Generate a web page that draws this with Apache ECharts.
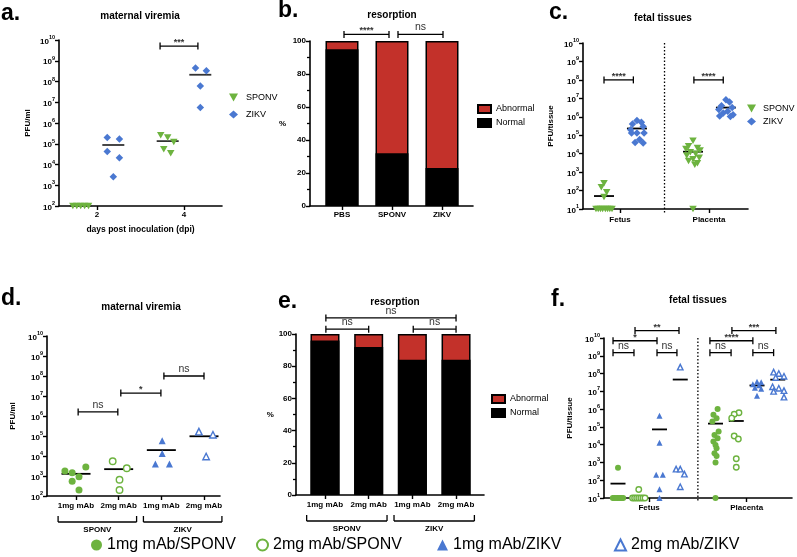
<!DOCTYPE html>
<html><head><meta charset="utf-8">
<script src="https://cdn.jsdelivr.net/npm/echarts@6/dist/echarts.min.js"></script>
<style>html,body{margin:0;padding:0;background:#fff}#c{width:797px;height:557px}</style>
</head><body><div id="c"></div>
<script>
// ===================== DATA =====================
// a. maternal viremia (PFU/ml)
const aDays = [2, 4];
const aSPONV = [[100, 100, 100, 100, 100], [2.6e5, 2.0e5, 1.2e5, 5.4e4, 3.5e4]];
const aZIKV = [[2.0e5, 1.7e5, 4.2e4, 2.1e4, 2.6e3], [4.5e8, 3.3e8, 6.0e7, 5.6e6]];
// b. resorption (%)
const bGroups = ['PBS', 'SPONV', 'ZIKV'];
const bNormal = [95, 32, 23];
const bAbnormal = [5, 68, 77];
// c. fetal tissues (PFU/tissue)
const cTissues = ['Fetus', 'Placenta'];
const cSPONV = [[250, 150, 80, 45, 10, 10, 10, 10, 10, 10, 10, 10],
                [5e4, 2.5e4, 2e4, 1.8e4, 1.5e4, 1.2e4, 1e4, 8e3, 6e3, 5e3, 4e3, 3e3, 2.5e3, 10]];
const cZIKV = [[6.2e5, 5e5, 4e5, 3e5, 2e5, 1.3e5, 1.3e5, 1.3e5, 5.8e4, 4e4, 3.8e4],
               [8.5e6, 6.3e6, 4e6, 3.2e6, 2.5e6, 2e6, 1.6e6, 1.3e6, 1.1e6, 1.05e6]];
// d. maternal viremia with mAb
const dGroups = ['1mg mAb', '2mg mAb', '1mg mAb', '2mg mAb'];
const dViruses = ['SPONV', 'ZIKV'];
const d1SPONV = [1800, 1450, 2800, 910, 550, 200];
const d2SPONV = [5500, 2450, 650, 200];
const d1ZIKV = [57500, 13500, 4000, 4000];
const d2ZIKV = [166000, 115000, 9500];
// e. resorption with mAb (%)
const eNormal = [96, 92, 84, 84];
const eAbnormal = [4, 8, 16, 16];
// f. fetal tissues with mAb, [fetus, placenta]
const f1SPONV = [[500, 10, 10, 10, 10, 10, 10, 10, 10],
                 [1e6, 4.8e5, 3.1e5, 2e5, 5.5e4, 3.5e4, 2.3e4, 1.5e4, 9.7e3, 6.3e3, 3.3e3, 2.3e3, 1e3, 10]];
const f2SPONV = [[30, 10, 10, 10, 10, 10, 10, 10],
                 [6.3e5, 5.1e5, 3.1e5, 3.1e4, 2.1e4, 1.6e3, 540]];
const f1ZIKV = [[4.2e5, 1.3e4, 200, 200, 31, 10],
                [3.5e7, 3.2e7, 2.5e7, 2.2e7, 1.6e7, 1.4e7, 5.6e6]];
const f2ZIKV = [[2.3e8, 420, 420, 220, 43],
                [1.2e8, 1e8, 7e7, 6e7, 1.8e7, 1.5e7, 1.1e7, 1e7, 4.7e6]];
const seriesNames = ['1mg mAb/SPONV', '2mg mAb/SPONV', '1mg mAb/ZIKV', '2mg mAb/ZIKV'];
// significance labels
const sigA = ['***'];
const sigB = ['****', 'ns'];
const sigC = ['****', '****'];
const sigD = ['ns', '*', 'ns'];
const sigE = ['ns', 'ns', 'ns'];
const sigF = ['ns', 'ns', '*', '**', 'ns', 'ns', '****', '***'];

// ===================== LAYOUT (positions / jitter) =====================
const FONT = '"Liberation Sans", Arial, Helvetica, sans-serif';
const GREEN = '#6db33f', BLUE = '#4a78d1', RED = '#c3312a';
const DOWN_TRI = 'path://M0,0 L10,0 L5,8.66 Z';
const aDodge = 0.375;
const aJit = { S: [[-0.18, -0.09, 0, 0.09, 0.18], [-0.16, 0, 0.14, -0.09, 0.07]],
               Z: [[-0.14, 0.14, -0.14, 0.14, 0], [-0.11, 0.14, 0, 0]] };
const cDodge = [-0.18, 0.19];
const cJit = { S: [[0, -0.03, 0.03, 0, -0.09, -0.065, -0.04, -0.015, 0.015, 0.04, 0.065, 0.09],
                   [0, -0.05, 0.05, -0.08, 0.08, -0.03, 0.03, -0.07, 0.07, 0, -0.05, 0.05, 0.02, 0]],
               Z: [[0, 0.05, -0.05, 0.07, -0.07, 0, 0.08, -0.06, 0.03, -0.02, 0.07],
                   [0, 0.04, -0.05, 0.07, -0.08, 0.02, -0.03, 0.08, -0.07, 0.05]] };
const dJit = [[-0.26, -0.09, 0.23, 0.07, -0.09, 0.07], [-0.14, 0.19, 0.02, 0.02],
              [0.02, 0.02, -0.14, 0.19], [-0.12, 0.21, 0.05]];
const fBase = [[1, 2, 3, 4], [5.7, 6.7, 7.7, 8.7]];
const fJit = [
  [[0, -0.25, -0.18, -0.1, -0.03, 0.04, 0.11, 0.18, 0.25], [0.1, -0.1, 0.05, -0.15, 0.15, -0.05, 0.1, -0.1, 0, 0.05, -0.05, 0.05, 0, 0]],
  [[0, -0.3, -0.2, -0.1, 0, 0.1, 0.2, 0.3], [0.13, -0.1, -0.22, -0.1, 0.1, 0, 0]],
  [[0, 0, -0.16, 0.16, 0, 0], [0, 0.2, -0.2, 0.1, -0.1, 0.2, 0]],
  [[0, -0.2, 0, 0.2, 0], [-0.2, 0.05, 0.3, -0.1, -0.25, 0.05, 0.3, -0.2, 0.3]]
];
const sigPosA = [[3.45, 4.32, 5.1e9]];
const sigPosB = [[1.04, 1.94, 104], [2.12, 3.02, 104]];
const sigPosC = [[0.82, 1.15, 1e8], [1.83, 2.16, 1e8]];
const sigPosD = [[1.05, 1.98, 1.6e6], [2.05, 2.99, 1.4e7], [3.06, 4.0, 1e8]];
const sigPosE = [[1.02, 4.0, 110], [1.02, 2.0, 103], [3.02, 4.0, 103]];
const sigPosF = [[0.76, 1.77, 1.5e9], [2.88, 3.84, 1.5e9], [0.76, 2.88, 7e9], [1.82, 3.94, 2.6e10],
                 [5.43, 6.45, 1.5e9], [7.5, 8.5, 1.5e9], [5.43, 7.5, 7e9], [6.49, 8.61, 2.6e10]];

// ===================== HELPERS =====================
const mean = a => a.reduce((s, v) => s + v, 0) / a.length;
const logLabel = v => '{b|10}{s|' + Math.round(Math.log10(v)) + '}';
const logRich = {
  b: { fontSize: 8, fontWeight: 'bold', fontFamily: '"Liberation Sans", Arial, sans-serif', color: '#000', lineHeight: 11, verticalAlign: 'bottom' },
  s: { fontSize: 5.5, fontWeight: 'bold', fontFamily: '"Liberation Sans", Arial, sans-serif', color: '#000', lineHeight: 6, verticalAlign: 'top' }
};
const pts = (vals, jit, base) => vals.map((v, i) => [base + jit[i], v]);
const lbl = { color: '#000', fontSize: 8, fontWeight: 'bold', fontFamily: FONT };
const axLine = { show: true, onZero: false, lineStyle: { color: '#000', width: 1.6 } };
const axTick = { show: true, length: 4, lineStyle: { color: '#000', width: 1.4 } };
const nameStyle = { color: '#000', fontSize: 8, fontWeight: 'bold', fontFamily: FONT };

function xVal(gi, min, max, ticks, fmt, extra, margin) {
  return Object.assign({ type: 'value', gridIndex: gi, min, max,
    axisLine: axLine, axisTick: Object.assign({}, axTick, { customValues: ticks }),
    axisLabel: Object.assign({}, lbl, { customValues: ticks, formatter: fmt, margin: margin || 6 }),
    splitLine: { show: false } }, extra || {});
}
function yLog(gi, min, max, name, gap) {
  return { type: 'log', logBase: 10, gridIndex: gi, min, max, splitNumber: Math.round(Math.log10(max / min)),
    name, nameLocation: 'middle', nameGap: gap, nameTextStyle: nameStyle,
    axisLine: axLine, axisTick: axTick,
    axisLabel: { formatter: logLabel, rich: logRich, margin: 4 },
    splitLine: { show: false } };
}
function yPct(gi, gap) {
  return { type: 'value', gridIndex: gi, min: 0, max: 100, interval: 20,
    name: '%', nameLocation: 'middle', nameGap: gap, nameRotate: 0, nameTextStyle: nameStyle,
    axisLine: axLine, axisTick: axTick, minorTick: { show: true, splitNumber: 2, length: 3, lineStyle: { color: '#000', width: 1.3 } },
    axisLabel: Object.assign({}, lbl, { margin: 4 }), splitLine: { show: false } };
}
function scatter(name, ax, data, symbol, size, fill, stroke) {
  return { type: 'scatter', name, xAxisIndex: ax, yAxisIndex: ax, data, symbol, symbolSize: size,
    symbolKeepAspect: true, z: 3,
    itemStyle: stroke ? { color: fill, borderColor: stroke, borderWidth: 1.4, opacity: 1 } : { color: fill, opacity: 1 } };
}
function meanSeries(ax, data, hw, color) {
  return { type: 'custom', xAxisIndex: ax, yAxisIndex: ax, clip: false, silent: true, z: 2, data,
    renderItem: (p, api) => {
      const c = api.coord([api.value(0), api.value(1)]);
      return { type: 'line', shape: { x1: c[0] - hw, y1: c[1], x2: c[0] + hw, y2: c[1] },
        style: { stroke: color || '#000', lineWidth: 1.8 } };
    } };
}
function sigSeries(ax, pos, texts) {
  return { type: 'custom', xAxisIndex: ax, yAxisIndex: ax, clip: false, silent: true, z: 5,
    encode: { x: [0, 1], y: 2 }, data: pos,
    renderItem: (p, api) => {
      const t = texts[p.dataIndex];
      const a = api.coord([api.value(0), api.value(2)]), b = api.coord([api.value(1), api.value(2)]);
      const y = a[1], st = { stroke: '#000', lineWidth: 1.3 };
      const ns = t === 'ns';
      return { type: 'group', children: [
        { type: 'line', shape: { x1: a[0], y1: y, x2: b[0], y2: y }, style: st },
        { type: 'line', shape: { x1: a[0], y1: y - 3.5, x2: a[0], y2: y + 3.5 }, style: st },
        { type: 'line', shape: { x1: b[0], y1: y - 3.5, x2: b[0], y2: y + 3.5 }, style: st },
        { type: 'text', x: (a[0] + b[0]) / 2, y: ns ? y - 1.5 : y + 1,
          style: { text: t, align: 'center', verticalAlign: 'bottom', fill: '#333',
            font: ns ? '10.5px ' + FONT : 'bold 9px ' + FONT } }
      ] };
    } };
}
function dividerSeries(ax, x, yv) {
  return { type: 'custom', xAxisIndex: ax, yAxisIndex: ax, clip: false, silent: true, z: 1, data: [[x, yv]],
    renderItem: (p, api) => {
      const cs = p.coordSys, cx = api.coord([api.value(0), api.value(1)])[0];
      return { type: 'line', shape: { x1: cx, y1: cs.y, x2: cx, y2: cs.y + cs.height + 4 },
        style: { stroke: '#000', lineWidth: 1.3, lineDash: [1.5, 2] } };
    } };
}
function groupBracketSeries(ax, yv, labels) {
  const data = labels.map((l, i) => [2 * i + 1 - 0.42, 2 * i + 2 + 0.42, yv]);
  return { type: 'custom', xAxisIndex: ax, yAxisIndex: ax, clip: false, silent: true, z: 5,
    encode: { x: [0, 1], y: 2 }, data,
    renderItem: (p, api) => {
      const cs = p.coordSys, bot = cs.y + cs.height;
      const x1 = api.coord([api.value(0), api.value(2)])[0], x2 = api.coord([api.value(1), api.value(2)])[0];
      const st = { stroke: '#000', lineWidth: 1.3 };
      return { type: 'group', children: [
        { type: 'line', shape: { x1, y1: bot + 26, x2, y2: bot + 26 }, style: st },
        { type: 'line', shape: { x1, y1: bot + 20, x2: x1, y2: bot + 26 }, style: st },
        { type: 'line', shape: { x1: x2, y1: bot + 20, x2, y2: bot + 26 }, style: st },
        { type: 'text', x: (x1 + x2) / 2, y: bot + 30,
          style: { text: labels[p.dataIndex], align: 'center', verticalAlign: 'top', fill: '#000', font: 'bold 8px ' + FONT } }
      ] };
    } };
}
// Abnormal is drawn from 0 up to Normal+Abnormal, behind the Normal bar (visual stacking)
function barPair(ax, normal, abnormal, w) {
  const bs = { borderColor: '#000', borderWidth: 1.5 };
  return [
    { type: 'bar', name: 'Abnormal', xAxisIndex: ax, yAxisIndex: ax, barWidth: w, barGap: '-100%', z: 2,
      data: abnormal.map((v, i) => [i + 1, normal[i] + v]), itemStyle: Object.assign({ color: RED }, bs) },
    { type: 'bar', name: 'Normal', xAxisIndex: ax, yAxisIndex: ax, barWidth: w, barGap: '-100%', z: 3,
      data: normal.map((v, i) => [i + 1, v]), itemStyle: Object.assign({ color: '#000' }, bs) }
  ];
}

// ===================== SERIES =====================
const series = [];
// a
series.push(scatter('SPONV', 0, aDays.flatMap((d, k) => pts(aSPONV[k], aJit.S[k], d - aDodge)), DOWN_TRI, 7.5, GREEN));
series.push(scatter('ZIKV', 0, aDays.flatMap((d, k) => pts(aZIKV[k], aJit.Z[k], d + aDodge)), 'diamond', 7.5, BLUE));
series.push(meanSeries(0, aDays.map((d, k) => [d - aDodge, mean(aSPONV[k])]), 11, '#333'));
series.push(meanSeries(0, aDays.map((d, k) => [d + aDodge, mean(aZIKV[k])]), 11, '#333'));
series.push(sigSeries(0, sigPosA, sigA));
// b
series.push(...barPair(1, bNormal, bAbnormal, 33));
series.push(sigSeries(1, sigPosB, sigB));
// c
series.push(scatter('SPONV', 2, cTissues.flatMap((t, k) => pts(cSPONV[k], cJit.S[k], k + 1 + cDodge[0])), DOWN_TRI, 7.5, GREEN));
series.push(scatter('ZIKV', 2, cTissues.flatMap((t, k) => pts(cZIKV[k], cJit.Z[k], k + 1 + cDodge[1])), 'diamond', 7.5, BLUE));
series.push(meanSeries(2, cTissues.map((t, k) => [k + 1 + cDodge[0], mean(cSPONV[k])]), 10));
series.push(meanSeries(2, cTissues.map((t, k) => [k + 1 + cDodge[1], mean(cZIKV[k])]), 10));
series.push(dividerSeries(2, 1.5, 1e5));
series.push(sigSeries(2, sigPosC, sigC));
// d
const dSets = [d1SPONV, d2SPONV, d1ZIKV, d2ZIKV];
const symDefs = [
  ['circle', GREEN, null], ['circle', '#fff', GREEN], ['triangle', BLUE, null], ['triangle', '#fff', BLUE]
];
dSets.forEach((vals, k) => {
  const s = symDefs[k];
  series.push(scatter(seriesNames[k], 3, pts(vals, dJit[k], k + 1), s[0], s[2] ? 6.5 : 7, s[1], s[2]));
});
series.push(meanSeries(3, dSets.map((vals, k) => [k + 1, mean(vals)]), 14.5));
series.push(sigSeries(3, sigPosD, sigD));
series.push(groupBracketSeries(3, 100, dViruses));
// e
series.push(...barPair(4, eNormal, eAbnormal, 29));
series.push(sigSeries(4, sigPosE, sigE));
series.push(groupBracketSeries(4, 0, dViruses));
// f
const fSets = [f1SPONV, f2SPONV, f1ZIKV, f2ZIKV];
fSets.forEach((sets, k) => {
  const s = symDefs[k];
  const data = [0, 1].flatMap(t => pts(sets[t], fJit[k][t], fBase[t][k]));
  series.push(scatter(seriesNames[k], 5, data, s[0], s[2] ? 5.5 : 6, s[1], s[2]));
});
series.push(meanSeries(5, fSets.flatMap((sets, k) => [0, 1].map(t => [fBase[t][k], mean(sets[t])])), 7.5));
series.push(dividerSeries(5, (fBase[0][3] + fBase[1][0]) / 2, 1e5));
series.push(sigSeries(5, sigPosF, sigF));

// ===================== OPTION =====================
const legText = { color: '#000', fontSize: 9, fontFamily: FONT };
const bottomLegend = (name, left) => ({ left, top: 537, padding: 0, itemWidth: 11, itemHeight: 11,
  data: [name], selectedMode: false, textStyle: { color: '#000', fontSize: 16, fontFamily: FONT } });
const txt = (text, x, y, font, align) => ({ type: 'text', x, y,
  style: { text, font, fill: '#000', align: align || 'center', verticalAlign: 'middle' } });
const LETTER = 'bold 23px ' + FONT, TITLE = 'bold 10px ' + FONT;

const option = {
  animation: false,
  backgroundColor: '#fff',
  grid: [
    { left: 59, top: 40, width: 163, height: 166 },
    { left: 310, top: 41, width: 163, height: 165 },
    { left: 583, top: 43, width: 165, height: 166 },
    { left: 47, top: 336, width: 173, height: 160 },
    { left: 296, top: 334, width: 188, height: 161 },
    { left: 604, top: 338, width: 188, height: 160 }
  ],
  xAxis: [
    xVal(0, 1.126, 4.874, aDays, v => String(Math.round(v)),
      { name: 'days post inoculation (dpi)', nameLocation: 'middle', nameGap: 19,
        nameTextStyle: Object.assign({}, nameStyle, { fontSize: 8.5 }) }, 5),
    xVal(1, 0.36, 3.62, [1, 2, 3], v => bGroups[Math.round(v) - 1], null, 5),
    xVal(2, 0.584, 2.438, [1, 2], v => cTissues[Math.round(v) - 1], null, 7),
    xVal(3, 0.32, 4.375, [1, 2, 3, 4], v => dGroups[Math.round(v) - 1], null, 6),
    xVal(4, 0.336, 4.64, [1, 2, 3, 4], v => dGroups[Math.round(v) - 1], null, 6),
    xVal(5, 0.325, 9.386, [mean(fBase[0]), mean(fBase[1])], v => (v < 5 ? cTissues[0] : cTissues[1]), null, 6)
  ],
  yAxis: [
    yLog(0, 1e2, 1e10, 'PFU/ml', 27),
    yPct(1, 24),
    yLog(2, 1e1, 1e10, 'PFU/tissue', 28),
    yLog(3, 1e2, 1e10, 'PFU/ml', 30),
    yPct(4, 20),
    yLog(5, 1e1, 1e10, 'PFU/tissue', 30)
  ],
  legend: [
    { orient: 'vertical', left: 229, top: 93, padding: 0, itemWidth: 9, itemHeight: 8, itemGap: 8,
      data: ['SPONV', 'ZIKV'], selectedMode: false, textStyle: Object.assign({}, legText, { padding: [0, 0, 0, 3] }) },
    { orient: 'vertical', left: 477, top: 104, padding: 0, itemWidth: 13, itemHeight: 8, itemGap: 4, icon: 'rect',
      data: ['Abnormal', 'Normal'], selectedMode: false, textStyle: legText },
    { orient: 'vertical', left: 747, top: 104, padding: 0, itemWidth: 9, itemHeight: 8, itemGap: 4,
      data: ['SPONV', 'ZIKV'], selectedMode: false, textStyle: Object.assign({}, legText, { padding: [0, 0, 0, 2] }) },
    { orient: 'vertical', left: 491, top: 394, padding: 0, itemWidth: 13, itemHeight: 8, itemGap: 4, icon: 'rect',
      data: ['Abnormal', 'Normal'], selectedMode: false, textStyle: legText },
    bottomLegend(seriesNames[0], 91), bottomLegend(seriesNames[1], 256),
    bottomLegend(seriesNames[2], 437), bottomLegend(seriesNames[3], 614)
  ],
  graphic: [
    txt('a.', 1, 14, LETTER, 'left'),
    txt('b.', 278, 11, LETTER, 'left'),
    txt('c.', 549, 13, LETTER, 'left'),
    txt('d.', 1, 299, LETTER, 'left'),
    txt('e.', 278, 302, LETTER, 'left'),
    txt('f.', 551, 300, LETTER, 'left'),
    txt('maternal viremia', 140, 16, TITLE),
    txt('resorption', 392, 15, TITLE),
    txt('fetal tissues', 663, 18, TITLE),
    txt('maternal viremia', 141, 307, TITLE),
    txt('resorption', 395, 302, TITLE),
    txt('fetal tissues', 698, 300, TITLE)
  ],
  series
};
const chart = echarts.init(document.getElementById('c'), null, { renderer: 'canvas' });
chart.setOption(option);
</script></body></html>
